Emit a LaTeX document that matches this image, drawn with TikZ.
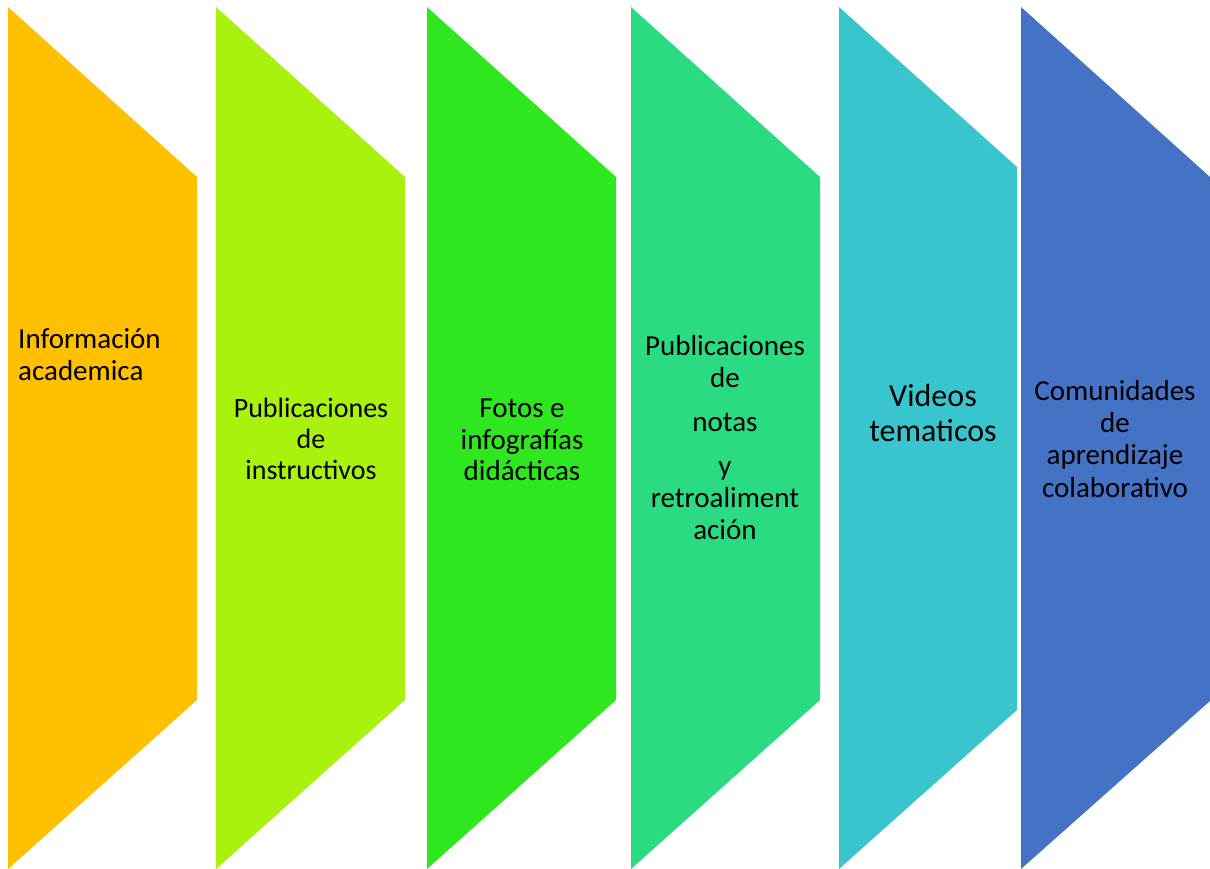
\documentclass[tikz,border=0pt]{standalone}
\usepackage{fontspec}
\setmainfont{Carlito}
\definecolor{c1}{HTML}{FFC000}
\definecolor{c2}{HTML}{A8F20E}
\definecolor{c3}{HTML}{2EE71F}
\definecolor{c4}{HTML}{2ADB82}
\definecolor{c5}{HTML}{38C5CE}
\definecolor{c6}{HTML}{4472C4}
\begin{document}
\begin{tikzpicture}[x=1pt,y=-1pt,
  lbl/.style={inner sep=0pt,anchor=base,font=\fontsize{29}{32}\selectfont,text=black},
  lblsmall/.style={lbl,font=\fontsize{28}{31}\selectfont},
  lblbig/.style={lbl,font=\fontsize{32}{35}\selectfont}]
\useasboundingbox (0,0) rectangle (1210,869);
% shapes
\fill[c1] (8,7) -- (197,177) -- (197,700) -- (8,869) -- cycle;
\fill[c2] (216,7) -- (405,177) -- (405,700) -- (216,869) -- cycle;
\fill[c3] (427,7) -- (616,177) -- (616,700) -- (427,869) -- cycle;
\fill[c4] (631,7) -- (820,177) -- (820,700) -- (631,869) -- cycle;
\fill[c5] (839,7) -- (1017,167) -- (1017,710) -- (839,869) -- cycle;
\fill[c6] (1021,7) -- (1210,177) -- (1210,701) -- (1021,869) -- cycle;
% column 1
\node[lbl,anchor=base west] (t1a) at (18,348) {Información};
\node[lbl,anchor=base west] (t1b) at (18,380) {academica};
% column 2
\node[lblsmall] (t2a) at (311,417) {Publicaciones};
\node[lblsmall] (t2b) at (311,448) {de};
\node[lblsmall] (t2c) at (311,479) {instructivos};
% column 3
\node[lbl] (t3a) at (522,417) {Fotos e};
\node[lbl] (t3b) at (522,449) {infografías};
\node[lbl] (t3c) at (522,480) {didácticas};
% column 4
\node[lbl] (t4a) at (725,355) {Publicaciones};
\node[lbl] (t4b) at (725,387) {de};
\node[lbl] (t4c) at (725,431) {notas};
\node[lbl] (t4d) at (725,475) {y};
\node[lbl] (t4e) at (725,507) {retroaliment};
\node[lbl] (t4f) at (725,539) {ación};
% column 5
\node[lblbig] (t5a) at (933,406) {Videos};
\node[lblbig] (t5b) at (933,441) {tematicos};
% column 6
\node[lbl] (t6a) at (1115,400) {Comunidades};
\node[lbl] (t6b) at (1115,432) {de};
\node[lbl] (t6c) at (1115,464) {aprendizaje};
\node[lbl] (t6d) at (1115,497) {colaborativo};
\end{tikzpicture}
\end{document}
